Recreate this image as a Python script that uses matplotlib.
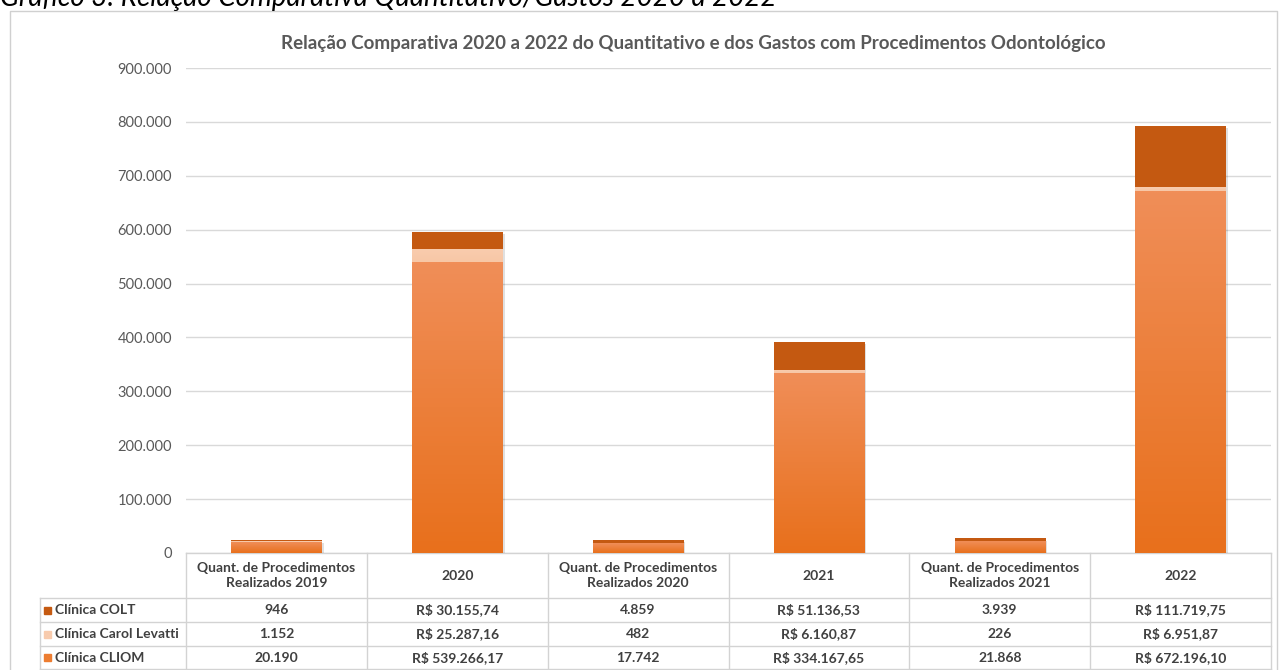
import numpy as np
import matplotlib.pyplot as plt
from matplotlib.colors import to_rgb

plt.rcParams['font.family'] = ['Lato', 'DejaVu Sans']

# dados
colunas = ["Quant. de Procedimentos\nRealizados 2019", "2020",
           "Quant. de Procedimentos\nRealizados 2020", "2021",
           "Quant. de Procedimentos\nRealizados 2021", "2022"]
cliom = [20190, 539266.17, 17742, 334167.65, 21868, 672196.10]
carol = [1152, 25287.16, 482, 6160.87, 226, 6951.87]
colt = [946, 30155.74, 4859, 51136.53, 3939, 111719.75]
txt_colt = ["946", "R$ 30.155,74", "4.859", "R$ 51.136,53", "3.939", "R$ 111.719,75"]
txt_carol = ["1.152", "R$ 25.287,16", "482", "R$ 6.160,87", "226", "R$ 6.951,87"]
txt_cliom = ["20.190", "R$ 539.266,17", "17.742", "R$ 334.167,65", "21.868", "R$ 672.196,10"]
yticks = np.arange(0, 900001, 100000)

W, H = 1279, 670
fig = plt.figure(figsize=(W / 100, H / 100), dpi=100)

# eixo de fundo em pixels (moldura, tabela, textos)
bg = fig.add_axes([0, 0, 1, 1])
bg.set_xlim(0, W)
bg.set_ylim(H, 0)
bg.axis('off')

x0, x1, y0, y1 = 186, 1271, 553, 68
ax = fig.add_axes([x0 / W, 1 - y0 / H, (x1 - x0) / W, (y0 - y1) / H])
ax.set_xlim(-0.5, 5.5)
ax.set_ylim(0, 900000)
ax.set_yticks(yticks)
ax.set_yticklabels(["0"] + [f"{v:,}".replace(",", ".") for v in yticks[1:]],
                   fontsize=10.5, color='#595959')
ax.tick_params(axis='y', length=0, pad=10)
ax.set_xticks([])
ax.grid(axis='y', color='#D9D9D9', linewidth=1)
ax.set_axisbelow(True)
for s in ax.spines.values():
    s.set_visible(False)
ax.patch.set_alpha(0)


def grad_bar(x, bottom, height, c_top, c_bot, w=0.5):
    g = np.linspace(0, 1, 64)[:, None, None]
    img = np.array(to_rgb(c_top)) * (1 - g) + np.array(to_rgb(c_bot)) * g
    ax.imshow(img, extent=(x - w / 2, x + w / 2, bottom, bottom + height),
              aspect='auto', zorder=3, interpolation='bilinear')


xs = np.arange(len(colunas))
for i in xs:
    total = cliom[i] + carol[i] + colt[i]
    # sombra
    ax.bar(i + 0.012, total, width=0.5, bottom=-3000, color='#000000', alpha=0.12, zorder=2)
    grad_bar(i, 0, cliom[i], '#F08E58', '#E8701C')
    grad_bar(i, cliom[i], carol[i], '#F9CCAE', '#F7C7A6')
    grad_bar(i, cliom[i] + carol[i], colt[i], '#C55A11', '#C45912')
ax.set_xlim(-0.5, 5.5)
ax.set_ylim(0, 900000)

# moldura externa
bg.plot([10, 10, 1277, 1277], [H + 5, 11, 11, H + 5], color='#D0D0D0', lw=1)

# legenda antiga cortada
bg.text(0, 6, "Gráfico 3: Relação Comparativa Quantitativo/Gastos 2020 a 2022",
        fontsize=20, style='italic', ha='left', va='baseline', color='#000000')

bg.text(693, 43, "Relação Comparativa 2020 a 2022 do Quantitativo e dos Gastos com Procedimentos Odontológico",
        fontsize=13.5, fontweight='bold', color='#595959', ha='center', va='center')

# tabela
lc = '#D3D3D3'
cw = (x1 - x0) / 6
rows_y = [553, 598, 622, 646, 669]
for k in range(7):
    xx = x0 + k * cw
    bg.plot([xx, xx], [553, 669], color=lc, lw=1)
bg.plot([40, 40], [598, 669], color=lc, lw=1)
bg.plot([x0, x1], [553, 553], color=lc, lw=1)
for yy in rows_y[1:]:
    bg.plot([40, x1], [yy, yy], color=lc, lw=1)

for k, lab in enumerate(colunas):
    bg.text(x0 + (k + 0.5) * cw, 575.5, lab, ha='center', va='center', fontsize=10,
            fontweight='bold', color='#404040', linespacing=1.3)

linhas = [("Clínica COLT", '#C55A11', txt_colt),
          ("Clínica Carol Levatti", '#F8CBAD', txt_carol),
          ("Clínica CLIOM", '#ED7D31', txt_cliom)]
for r, (nome, cor, vals) in enumerate(linhas):
    yc = (rows_y[r + 1] + rows_y[r + 2]) / 2
    bg.add_patch(plt.Rectangle((44, yc - 3.5), 7, 7, color=cor))
    bg.text(55, yc, nome, ha='left', va='center', fontsize=10,
            fontweight='bold', color='#404040')
    for k, v in enumerate(vals):
        bg.text(x0 + (k + 0.5) * cw, yc, v, ha='center', va='center', fontsize=10,
                fontweight='bold', color='#404040')

fig.savefig("out.png", dpi=100)
